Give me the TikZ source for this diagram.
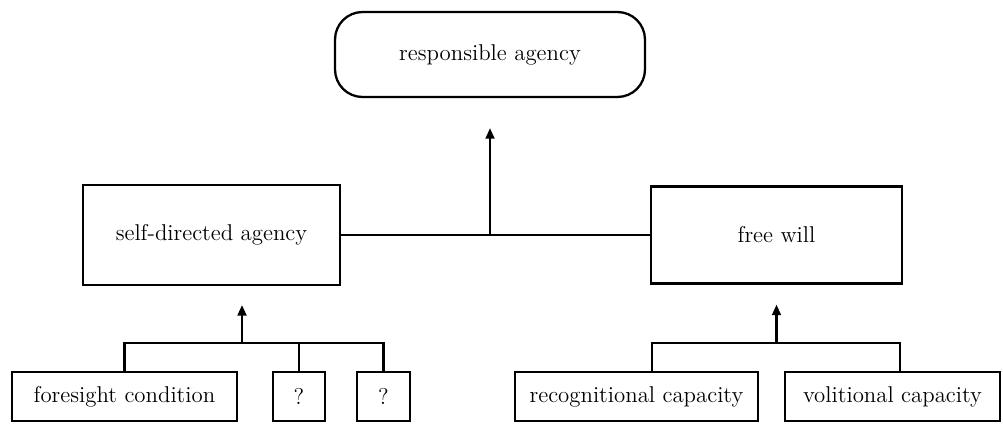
\documentclass[tikz,border=0pt]{standalone}
\usetikzlibrary{arrows.meta}
\tikzset{
	box/.style={draw, line width=1.3pt, inner sep=0pt, font=\fontsize{13}{15}\selectfont},
	bar/.style={line width=1.3pt, line join=miter},
	up/.style={line width=1.3pt, -{Triangle[width=5pt,length=6pt]}},
}

\begin{document}
\begin{tikzpicture}[x=0.02cm, y=-0.02cm]
	\useasboundingbox (0,0) rectangle (1003,423);
	
	\node[box, rounded corners=0.55cm, minimum width=6.2cm, minimum height=1.7cm] (resp) at (490,54.5) {responsible agency};
	\node[box, minimum width=5.14cm, minimum height=2cm] (self) at (211.5,235) {self-directed agency};
	\node[box, minimum width=5.02cm, minimum height=1.94cm] (free) at (776.5,235) {free will};
	
	\node[box, minimum width=4.5cm, minimum height=0.98cm] (fore) at (124.5,396.5) {foresight condition};
	\node[box, minimum width=1.04cm, minimum height=0.98cm] (q1) at (299,396.5) {?};
	\node[box, minimum width=1.06cm, minimum height=0.98cm] (q2) at (383.5,396.5) {?};
	\node[box, minimum width=4.86cm, minimum height=0.98cm] (recog) at (636.5,396.5) {recognitional capacity};
	\node[box, minimum width=4.3cm, minimum height=0.98cm] (vol) at (892.5,396.5) {volitional capacity};
	
	% joins
	\coordinate (top) at (resp.south |- self.east);
	\coordinate (lbar) at (242,343);
	\coordinate (rbar) at (free.south |- lbar);
	
	\draw[bar] (self.east) -- (free.west);
	\draw[up, shorten >=0.6cm] (top) -- (resp.south);
	
	% left
	\draw[bar] (fore.north) -- (fore.north |- lbar) -- (q2.north |- lbar) -- (q2.north);
	\draw[bar] (q1.north |- lbar) -- (q1.north);
	\draw[up] (lbar) -- ++(0,-38);
	
	% right
	\coordinate (r1) at (652,343);
	\coordinate (r2) at (900,343);
	\draw[bar] (r1 |- recog.north) -- (r1) -- (r2) -- (r2 |- vol.north);
	\draw[up, shorten >=0.4cm] (rbar) -- (free.south);
\end{tikzpicture}
\end{document}
